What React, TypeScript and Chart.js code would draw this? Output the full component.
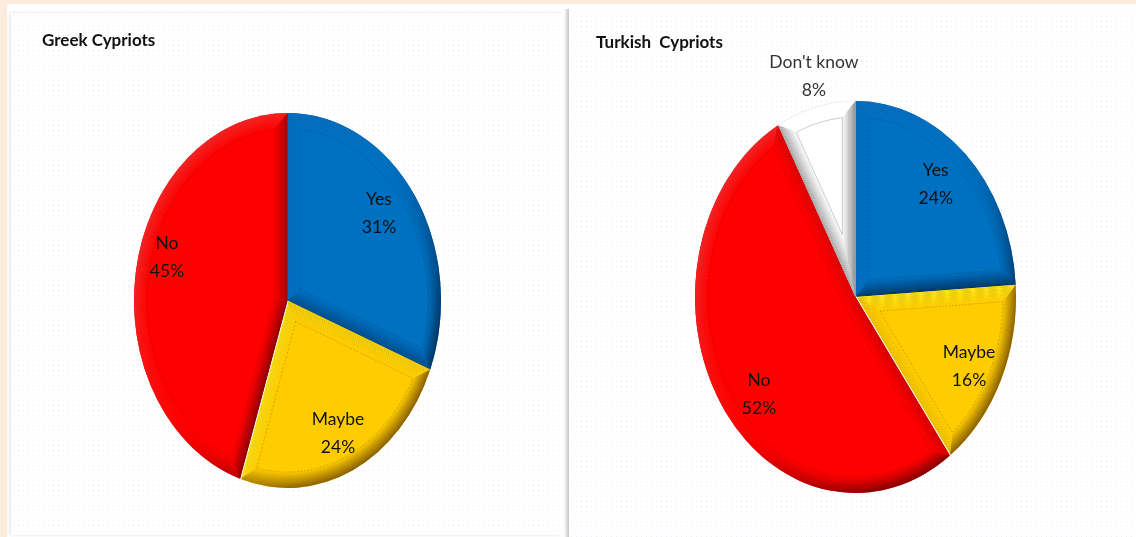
import React, { useEffect, useRef } from "react";
import { Chart, registerables } from "chart.js";

Chart.register(...registerables);

const greekTitle = "Greek Cypriots";
const turkishTitle = "Turkish  Cypriots";
const greekCategories = ["Yes", "Maybe", "No"];
const greekValues = [31, 24, 45];
const greekColors = ["#0070C0", "#FFCC00", "#FF0000"];
const turkishCategories = ["Yes", "Maybe", "No", "Don't know"];
const turkishValues = [24, 16, 52, 8];
const turkishColors = ["#0070C0", "#FFCC00", "#FF0000", "#FFFFFF"];
// label anchors, as fractions of the pie's horizontal and vertical radii
const greekLabelAnchors = [[0.596, -0.464], [0.329, 0.707], [-0.785, -0.232]];
const turkishLabelAnchors = [[0.5, -0.577], [0.707, 0.352], [-0.601, 0.495], [-0.259, -1.128]];

type Rgb = [number, number, number];
const rim: Record<string, { light: Rgb; dark: Rgb; base: Rgb }> = {
  "#0070C0": { light: [10, 105, 185], dark: [0, 55, 105], base: [0, 112, 192] },
  "#FFCC00": { light: [255, 238, 30], dark: [140, 98, 0], base: [255, 204, 0] },
  "#FF0000": { light: [240, 35, 35], dark: [135, 0, 0], base: [255, 0, 0] },
  "#FFFFFF": { light: [255, 255, 255], dark: [125, 125, 125], base: [255, 255, 255] },
};
const mix = (a: Rgb, b: Rgb, t: number): Rgb =>
  a.map((v, i) => Math.round(v + (b[i] - v) * t)) as Rgb;
const css = (c: Rgb) => `rgb(${c.join(",")})`;
// shade of a rim facing direction `normal`, lit from the upper left; fade 0 = full rim, 1 = face colour
const shade = (c: { light: Rgb; dark: Rgb; base: Rgb }, t: number, fade: number) => {
  const lit = t > 0 ? mix(c.base, c.light, Math.min(1, t * 1.3)) : mix(c.base, c.dark, Math.min(1, -t * 1.3));
  return css(mix(lit, c.base, fade));
};
const facing = (angle: number) => -0.7 * Math.cos(angle) - 0.7 * Math.sin(angle);

function wedgeGeom(x: number, y: number, r: number, s: number, e: number, w: number) {
  const R = r - w;
  const half = (e - s) / 2;
  const mid = (s + e) / 2;
  const off = w === 0 ? 0 : w / Math.sin(half);
  const da = Math.asin(w / R);
  return {
    R, a0: s + da, a1: e - da,
    ax: x + off * Math.cos(mid), ay: y + off * Math.sin(mid),
  };
}
function insetWedge(ctx: CanvasRenderingContext2D, x: number, y: number, r: number, s: number, e: number, w: number) {
  const g = wedgeGeom(x, y, r, s, e, w);
  ctx.beginPath();
  ctx.moveTo(g.ax, g.ay);
  ctx.arc(x, y, g.R, g.a0, g.a1);
  ctx.closePath();
}

const piePlugin = {
  id: "piePlugin",
  beforeDatasetsDraw(chart: any, _a: any, o: any) {
    const { ctx } = chart;
    const el = chart.getDatasetMeta(0).data[0];
    ctx.save();
    ctx.translate(el.x, el.y);
    ctx.scale(o.xScale, 1);
    ctx.translate(-el.x, -el.y);
  },
  afterDatasetsDraw(chart: any) {
    const { ctx } = chart;
    const bevel = 16;
    const steps = 16;
    const colors = chart.data.datasets[0].backgroundColor;
    chart.getDatasetMeta(0).data.forEach((el: any, i: number) => {
      const { x, y, startAngle: s, endAngle: e, outerRadius: r } = el;
      const c = rim[colors[i]];
      const isWhite = colors[i] === "#FFFFFF";
      const end = wedgeGeom(x, y, r, s, e, bevel);
      for (let k = 0; k < steps; k++) {
        const fade = k / steps;
        const w = (bevel * k) / steps;
        const g = ctx.createConicGradient(0, x, y);
        for (let n = 0; n <= 36; n++) {
          const a = (n / 36) * Math.PI * 2;
          g.addColorStop(n / 36, shade(c, facing(a), fade));
        }
        insetWedge(ctx, x, y, r, s, e, w);
        ctx.fillStyle = g;
        ctx.fill();
        const cur = wedgeGeom(x, y, r, s, e, w);
        // the two straight edges of the slice
        const tStart = isWhite ? -0.6 : facing(s - Math.PI / 2);
        const tEnd = isWhite ? -0.8 : facing(e + Math.PI / 2);
        ctx.beginPath();
        ctx.moveTo(cur.ax, cur.ay);
        ctx.lineTo(x + cur.R * Math.cos(cur.a0), y + cur.R * Math.sin(cur.a0));
        ctx.lineTo(x + end.R * Math.cos(end.a0), y + end.R * Math.sin(end.a0));
        ctx.lineTo(end.ax, end.ay);
        ctx.closePath();
        ctx.fillStyle = shade(c, tStart, fade);
        ctx.fill();
        ctx.beginPath();
        ctx.moveTo(cur.ax, cur.ay);
        ctx.lineTo(x + cur.R * Math.cos(cur.a1), y + cur.R * Math.sin(cur.a1));
        ctx.lineTo(x + end.R * Math.cos(end.a1), y + end.R * Math.sin(end.a1));
        ctx.lineTo(end.ax, end.ay);
        ctx.closePath();
        ctx.fillStyle = shade(c, tEnd, fade);
        ctx.fill();
      }
      insetWedge(ctx, x, y, r, s, e, bevel);
      ctx.fillStyle = colors[i];
      ctx.fill();
      ctx.strokeStyle = isWhite ? "rgba(120,120,120,0.4)" : "rgba(0,0,0,0.2)";
      ctx.lineWidth = 1;
      ctx.setLineDash(isWhite ? [] : [2, 2]);
      ctx.stroke();
      ctx.setLineDash([]);
      if (isWhite) {
        ctx.beginPath();
        ctx.arc(x, y, r, s, e);
        ctx.strokeStyle = "#d8d8d8";
        ctx.setLineDash([2, 2]);
        ctx.stroke();
        ctx.setLineDash([]);
      }
      // thin white seam along the yellow slice's end edge
      if (colors[i] === "#FFCC00") {
        ctx.beginPath();
        ctx.moveTo(x, y);
        ctx.lineTo(x + r * Math.cos(e), y + r * Math.sin(e));
        ctx.strokeStyle = "#FFFFFF";
        ctx.lineWidth = 2.5;
        ctx.stroke();
      }
    });
    ctx.restore();
  },
  afterDraw(chart: any, _a: any, o: any) {
    const { ctx } = chart;
    const el0 = chart.getDatasetMeta(0).data[0];
    const rx = el0.outerRadius * o.xScale;
    const ry = el0.outerRadius;
    ctx.save();
    ctx.textAlign = "center";
    ctx.textBaseline = "middle";
    ctx.font = "17.5px Lato";
    chart.data.labels.forEach((label: string, i: number) => {
      const [ax, ay] = o.anchors[i];
      const px = el0.x + ax * rx;
      const py = el0.y + ay * ry;
      ctx.fillStyle = label === "Don't know" ? "#333333" : "#111111";
      ctx.fillText(label, px, py - 14);
      ctx.fillText(`${chart.data.datasets[0].data[i]}%`, px, py + 14);
    });
    ctx.textAlign = "left";
    ctx.font = "bold 17px Lato";
    ctx.fillStyle = "#111111";
    ctx.fillText(o.title, o.titleX, o.titleY);
    ctx.restore();
  },
};

function Pie(props: {
  left: number; title: string; titleX: number; titleY: number; labels: string[]; values: number[];
  colors: string[]; anchors: number[][]; top: number; bottom: number; xScale: number;
}) {
  const ref = useRef<HTMLCanvasElement>(null);
  useEffect(() => {
    const chart = new Chart(ref.current!, {
      type: "pie",
      data: {
        labels: props.labels,
        datasets: [{ data: props.values, backgroundColor: props.colors, borderWidth: 0 }],
      },
      options: {
        responsive: false,
        animation: false,
        layout: { padding: { left: 7, right: 0, top: props.top, bottom: props.bottom } },
        plugins: {
          legend: { display: false },
          tooltip: { enabled: false },
          piePlugin: {
            xScale: props.xScale, anchors: props.anchors,
            title: props.title, titleX: props.titleX, titleY: props.titleY,
          },
        } as any,
      },
      plugins: [piePlugin],
    });
    return () => chart.destroy();
  }, []);
  return (
    <canvas
      ref={ref}
      width={568}
      height={537}
      style={{ position: "absolute", left: props.left, top: 0, width: 568, height: 537 }}
    />
  );
}

const dots = {
  backgroundColor: "#FFFFFF",
  backgroundImage: "radial-gradient(#EEEEF6 0.7px, transparent 1px)",
  backgroundSize: "5px 5px",
};

export default function App() {
  return (
    <div style={{ position: "fixed", left: 0, top: 0, width: 1136, height: 537, overflow: "hidden", background: "#FFFFFF" }}>
      <div style={{ position: "absolute", left: 0, top: 0, width: 1136, height: 4, background: "#FDEBDC" }} />
      <div style={{ position: "absolute", left: 0, top: 0, width: 7, height: 537, background: "#FDEBDC" }} />
      <div style={{ position: "absolute", left: 11, top: 13, width: 552, height: 522, ...dots, boxShadow: "-1px 0 3px 0 #E0E0E0" }} />
      <div style={{ position: "absolute", left: 564, top: 9, width: 5, height: 528, background: "linear-gradient(to right, #FFFFFF, #C4C4C4)" }} />
      <div style={{ position: "absolute", left: 569, top: 9, width: 567, height: 528, ...dots }} />
      <Pie left={0} title={greekTitle} titleX={42} titleY={41} labels={greekCategories} values={greekValues}
        colors={greekColors} anchors={greekLabelAnchors} top={113} bottom={49} xScale={0.8187} />
      <Pie left={568} title={turkishTitle} titleX={28} titleY={43} labels={turkishCategories} values={turkishValues}
        colors={turkishColors} anchors={turkishLabelAnchors} top={101} bottom={44} xScale={0.819} />
    </div>
  );
}
